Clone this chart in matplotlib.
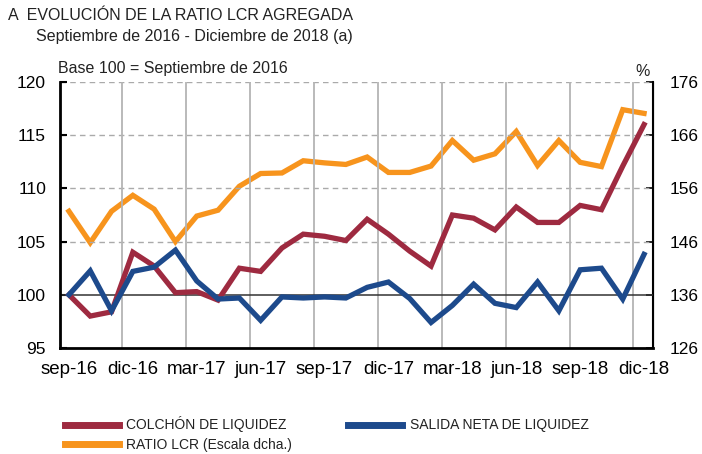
import matplotlib
matplotlib.use("Agg")
import matplotlib.pyplot as plt
from matplotlib.lines import Line2D

plt.rcParams['font.family'] = ['Liberation Sans', 'DejaVu Sans']

# monthly, sep-16 .. dic-18
months = ['sep-16', 'oct-16', 'nov-16', 'dic-16', 'ene-17', 'feb-17', 'mar-17',
          'abr-17', 'may-17', 'jun-17', 'jul-17', 'ago-17', 'sep-17', 'oct-17',
          'nov-17', 'dic-17', 'ene-18', 'feb-18', 'mar-18', 'abr-18', 'may-18',
          'jun-18', 'jul-18', 'ago-18', 'sep-18', 'oct-18', 'nov-18', 'dic-18']
tick_labels = ['sep-16', 'dic-16', 'mar-17', 'jun-17', 'sep-17', 'dic-17',
               'mar-18', 'jun-18', 'sep-18', 'dic-18']

colchon = [100.0, 98.0, 98.4, 104.0, 102.7, 100.2, 100.3, 99.5, 102.5, 102.2,
           104.4, 105.7, 105.5, 105.1, 107.1, 105.7, 104.1, 102.7, 107.5, 107.2,
           106.1, 108.25, 106.8, 106.8, 108.4, 108.0, 112.1, 116.0]
salida = [100.0, 102.25, 98.5, 102.2, 102.6, 104.2, 101.3, 99.6, 99.7, 97.6,
          99.8, 99.7, 99.8, 99.7, 100.7, 101.2, 99.65, 97.4, 99.0, 101.0,
          99.2, 98.8, 101.2, 98.5, 102.35, 102.5, 99.6, 103.8]
ratio_lcr = [151.7, 145.8, 151.7, 154.7, 152.1, 146.0, 150.8, 151.9, 156.4, 158.8,
             158.9, 161.2, 160.8, 160.5, 161.9, 159.0, 159.0, 160.2, 165.0, 161.3,
             162.5, 166.7, 160.3, 165.0, 160.9, 160.1, 170.8, 170.1]

red = '#9e2a40'
blue = '#1d4a8c'
orange = '#f7941d'

fig = plt.figure(figsize=(7.02, 4.54), dpi=100)
ax = fig.add_axes([60 / 702, 1 - 348 / 454, (653 - 60) / 702, (348 - 82) / 454])
ax2 = ax.twinx()

x = list(range(len(months)))

# grid
for v in [105, 110, 115, 120]:
    ax.axhline(v, color='#aaaaaa', lw=1, ls=(0, (4, 3)), zorder=1)
ax.axhline(100, color='#333333', lw=1.1, zorder=2)
for k in range(9):
    ax.axvline(2.5 + 3 * k, color='#b4b4b4', lw=1.3, zorder=1)

ax2.plot(x, ratio_lcr, color=orange, lw=3.8, solid_joinstyle='miter', zorder=3)
ax.plot(x, colchon, color=red, lw=3.8, solid_joinstyle='miter', zorder=4)
ax.plot(x, salida, color=blue, lw=3.8, solid_joinstyle='miter', zorder=5)
ax.set_zorder(ax2.get_zorder() + 1)
ax.patch.set_visible(False)

ax.set_xlim(-0.42, 27.42)
ax.set_ylim(95, 120)
ax.set_yticks([95, 100, 105, 110, 115, 120])
ax2.set_ylim(126, 176)
ax2.set_yticks([126, 136, 146, 156, 166, 176])

ax.set_xticks(range(0, 28, 3))
ax.set_xticklabels(tick_labels)

for a in (ax, ax2):
    a.spines['top'].set_visible(False)
ax.spines['left'].set_linewidth(2)
ax.spines['bottom'].set_linewidth(2)
ax2.spines['left'].set_visible(False)
ax2.spines['bottom'].set_visible(False)
ax2.spines['right'].set_linewidth(1.5)

ax.tick_params(axis='y', direction='in', length=5, width=1.5, labelsize=12.5, pad=10)
ax.tick_params(axis='x', length=0, labelsize=13.5, pad=9)
ax2.tick_params(axis='y', direction='in', length=5, width=1.2, labelsize=12.5, pad=12)

fig.text(8 / 702, 1 - 16 / 454, 'A  EVOLUCIÓN DE LA RATIO LCR AGREGADA',
         fontsize=11.5, color='#222222', va='center', ha='left')
fig.text(36 / 702, 1 - 36 / 454, 'Septiembre de 2016 - Diciembre de 2018 (a)',
         fontsize=11.5, color='#222222', va='center', ha='left')
fig.text(58 / 702, 1 - 69 / 454, 'Base 100 = Septiembre de 2016',
         fontsize=11.5, color='#222222', va='center', ha='left')
fig.text(643 / 702, 1 - 71 / 454, '%', fontsize=11.5, color='#222222',
         va='center', ha='center')

handles = [Line2D([], [], color=red, lw=5), Line2D([], [], color=blue, lw=5),
           Line2D([], [], color=orange, lw=5)]
labels = ['COLCHÓN DE LIQUIDEZ', 'SALIDA NETA DE LIQUIDEZ', 'RATIO LCR (Escala dcha.)']
leg = fig.legend([handles[0], handles[2], handles[1]],
                 [labels[0], labels[2], labels[1]],
                 ncol=2, loc='upper left', bbox_to_anchor=(52 / 702, 1 - 404 / 454),
                 frameon=False, handlelength=3.9, handletextpad=0.55,
                 columnspacing=4.0, labelspacing=0.4, fontsize=10)
for t in leg.get_texts():
    t.set_color('#222222')

fig.savefig('out.png', dpi=100)
